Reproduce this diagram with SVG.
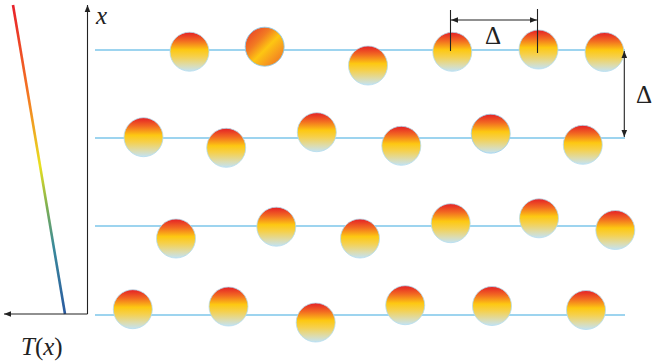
<svg xmlns="http://www.w3.org/2000/svg" width="652" height="364" viewBox="0 0 652 364">
<defs>
<linearGradient id="ball" x1="0" y1="0" x2="0" y2="1">
<stop offset="0" stop-color="#e41f26"/>
<stop offset="0.22" stop-color="#f26a22"/>
<stop offset="0.45" stop-color="#fdc812"/>
<stop offset="0.62" stop-color="#f6d04a"/>
<stop offset="0.85" stop-color="#dcdcb0"/>
<stop offset="1" stop-color="#c4e3f2"/>
</linearGradient>
<linearGradient id="ballDiag" x1="0.1" y1="0.1" x2="0.9" y2="0.9">
<stop offset="0" stop-color="#e9452a"/>
<stop offset="0.3" stop-color="#f27a22"/>
<stop offset="0.55" stop-color="#fdc612"/>
<stop offset="0.8" stop-color="#f79a1e"/>
<stop offset="1" stop-color="#f07a20"/>
</linearGradient>
<linearGradient id="temp" gradientUnits="userSpaceOnUse" x1="13" y1="5" x2="65" y2="314">
<stop offset="0" stop-color="#e8202a"/>
<stop offset="0.3" stop-color="#f47a22"/>
<stop offset="0.52" stop-color="#e8e020"/>
<stop offset="0.65" stop-color="#80b050"/>
<stop offset="0.78" stop-color="#3a8a9a"/>
<stop offset="1" stop-color="#2a5aa0"/>
</linearGradient>
<marker id="ah" viewBox="0 0 10 10" refX="10" refY="5" markerWidth="7" markerHeight="7" orient="auto-start-reverse" markerUnits="userSpaceOnUse">
<path d="M0,1 L10,5 L0,9 Z" fill="#222"/>
</marker>
</defs>
<style>
.row{stroke:#7cc6ea;stroke-width:1.6;fill:none}
.ball{fill:url(#ball);stroke:#b4dcee;stroke-width:0.8}
.diag{fill:url(#ballDiag);stroke:#8fcbea;stroke-width:0.9}
.ax{stroke:#222;stroke-width:1.1;fill:none}
.lbl{font-family:'Liberation Serif','DejaVu Serif','Noto Serif',serif;font-size:25px;fill:#222}
</style>

<g id="temperature">
<line x1="13" y1="5" x2="65" y2="314" stroke="url(#temp)" stroke-width="2.6"/>
</g>

<g id="connectors">
<line class="ax" x1="87.5" y1="314" x2="87.5" y2="5" marker-end="url(#ah)"/>
<line class="ax" x1="87.5" y1="314" x2="4" y2="314" marker-end="url(#ah)"/>
<line class="row" x1="95" y1="50" x2="625" y2="50"/>
<line class="row" x1="95" y1="138" x2="625" y2="138"/>
<line class="row" x1="95" y1="226" x2="625" y2="226"/>
<line class="row" x1="95" y1="315" x2="625" y2="315"/>
</g>

<g id="labels">
<text class="lbl" x="96" y="24" font-style="italic">x</text>
<text class="lbl" x="21" y="355"><tspan font-style="italic">T</tspan>(<tspan font-style="italic">x</tspan>)</text>
</g>

<g id="row1">
<circle class="ball" cx="189.5" cy="51.7" r="19.5"/>
<circle class="diag" cx="264.7" cy="46.7" r="19.5"/>
<circle class="ball" cx="368" cy="65.5" r="19.5"/>
<circle class="ball" cx="452.3" cy="51.8" r="19.5"/>
<circle class="ball" cx="538.5" cy="49.5" r="19.5"/>
<circle class="ball" cx="604.5" cy="52" r="19.5"/>
</g>
<g id="row2">
<circle class="ball" cx="143.5" cy="137.2" r="19.5"/>
<circle class="ball" cx="226.2" cy="147.8" r="19.5"/>
<circle class="ball" cx="316.8" cy="132.2" r="19.5"/>
<circle class="ball" cx="401.3" cy="145.8" r="19.5"/>
<circle class="ball" cx="490.7" cy="133.7" r="19.5" style="stroke:#9ccfec"/>
<circle class="ball" cx="582.8" cy="144.8" r="19.5"/>
</g>
<g id="row3">
<circle class="ball" cx="176" cy="238.5" r="19.5"/>
<circle class="ball" cx="276.3" cy="226.7" r="19.5"/>
<circle class="ball" cx="360" cy="238.5" r="19.5"/>
<circle class="ball" cx="450.7" cy="223.2" r="19.5"/>
<circle class="ball" cx="539" cy="218.3" r="19.5"/>
<circle class="ball" cx="615.3" cy="230" r="19.5"/>
</g>
<g id="row4">
<circle class="ball" cx="132.8" cy="309.2" r="19.5"/>
<circle class="ball" cx="228.5" cy="306.5" r="19.5"/>
<circle class="ball" cx="315.7" cy="322.5" r="19.5"/>
<circle class="ball" cx="405.2" cy="305.2" r="19.5"/>
<circle class="ball" cx="492" cy="306" r="19.5"/>
<circle class="ball" cx="586" cy="310" r="19.5"/>
</g>

<g id="delta-h">
<line class="ax" x1="450.5" y1="10" x2="450.5" y2="51"/>
<line class="ax" x1="537.5" y1="9" x2="537.5" y2="53"/>
<line class="ax" x1="451" y1="20" x2="537" y2="20" marker-start="url(#ah)" marker-end="url(#ah)"/>
<text class="lbl" x="485" y="44">Δ</text>
</g>
<g id="delta-v">
<line class="ax" x1="624.3" y1="51" x2="624.3" y2="137" marker-start="url(#ah)" marker-end="url(#ah)"/>
<text class="lbl" x="636" y="103">Δ</text>
</g>
</svg>
